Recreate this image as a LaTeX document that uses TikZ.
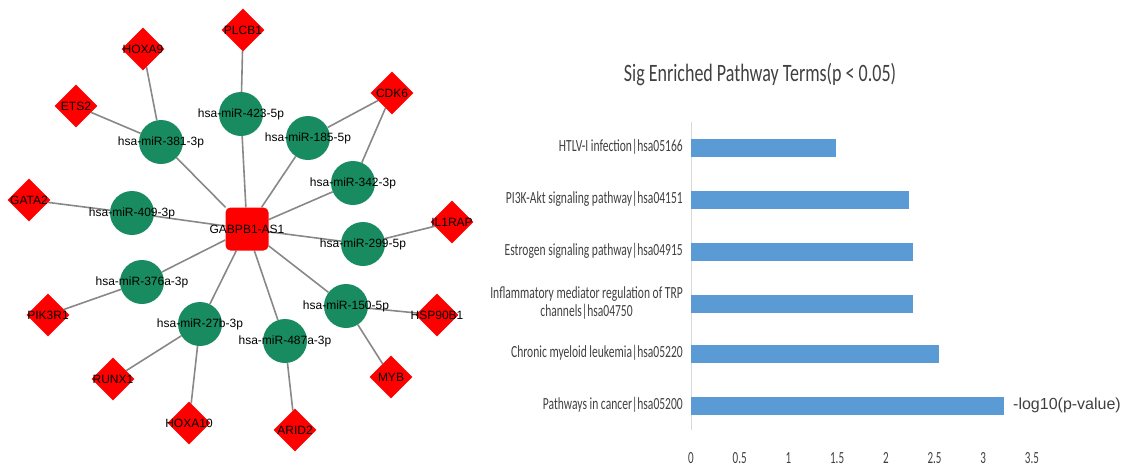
\documentclass[tikz,border=0pt]{standalone}
\usepackage{fontspec}
\setmainfont{Liberation Sans}
\newfontfamily\calib{Carlito}
\usetikzlibrary{shapes.geometric}

\definecolor{mirgreen}{RGB}{24,140,96}
\definecolor{barblue}{RGB}{91,155,213}
\definecolor{axgray}{RGB}{217,217,217}
\definecolor{txtgray}{RGB}{64,64,64}
\definecolor{edgegray}{RGB}{136,136,136}

\newcommand{\narrow}[2][0.68]{\scalebox{#1}[1]{#2}}

\pgfdeclarelayer{bg}
\pgfsetlayers{bg,main}

\tikzset{
  lbl/.style={font=\fontsize{12}{12}\selectfont, text=black, inner sep=0pt},
  mirna/.style={circle, fill=mirgreen, minimum size=44pt, inner sep=0pt, label={[lbl]center:#1}},
  gene/.style={diamond, fill=red, minimum size=43pt, inner sep=0pt, label={[lbl]center:#1}},
  lnc/.style={rectangle, rounded corners=5pt, fill=red, minimum size=43pt, inner sep=0pt, label={[lbl]center:#1}},
  link/.style={draw=edgegray, line width=1.6pt},
  cat/.style={font=\calib\fontsize{17}{18}\selectfont, text=txtgray, inner sep=0pt, anchor=east},
  tick/.style={font=\calib\fontsize{17}{17}\selectfont, text=txtgray, inner sep=0pt},
}

\begin{document}
\begin{tikzpicture}[x=1pt, y=-1pt]
  \useasboundingbox (0,0) rectangle (1137,466);

  % network
  \node[lnc=GABPB1-AS1] (gabpb) at (247,229) {};

  \node[mirna=hsa-miR-381-3p] (m381) at (161,142) {};
  \node[mirna=hsa-miR-423-5p] (m423) at (241,114) {};
  \node[mirna=hsa-miR-185-5p] (m185) at (308,138) {};
  \node[mirna=hsa-miR-342-3p] (m342) at (353,183) {};
  \node[mirna=hsa-miR-409-3p] (m409) at (132,213) {};
  \node[mirna=hsa-miR-299-5p] (m299) at (363,244) {};
  \node[mirna=hsa-miR-376a-3p] (m376) at (142,282) {};
  \node[mirna=hsa-miR-150-5p] (m150) at (346,306) {};
  \node[mirna=hsa-miR-27b-3p] (m27b) at (200,324) {};
  \node[mirna=hsa-miR-487a-3p] (m487) at (285,341) {};

  \node[gene=HOXA9] (hoxa9) at (143,49) {};
  \node[gene=ETS2] (ets2) at (76,106) {};
  \node[gene=PLCB1] (plcb1) at (243,30) {};
  \node[gene=CDK6] (cdk6) at (392,93) {};
  \node[gene=GATA2] (gata2) at (29,200) {};
  \node[gene=IL1RAP] (il1rap) at (452,222) {};
  \node[gene=PIK3R1] (pik3r1) at (48,315) {};
  \node[gene=HSP90B1] (hsp90b1) at (437,315) {};
  \node[gene=MYB] (myb) at (391,377) {};
  \node[gene=RUNX1] (runx1) at (113,379) {};
  \node[gene=HOXA10] (hoxa10) at (189,423) {};
  \node[gene=ARID2] (arid2) at (295,430) {};

  \begin{pgfonlayer}{bg}
    \foreach \a/\b in {gabpb/m381, gabpb/m423, gabpb/m185, gabpb/m342, gabpb/m409,
                       gabpb/m299, gabpb/m376, gabpb/m150, gabpb/m27b, gabpb/m487,
                       m381/hoxa9, m381/ets2, m423/plcb1, m185/cdk6, m342/cdk6,
                       m409/gata2, m299/il1rap, m376/pik3r1, m150/hsp90b1, m150/myb,
                       m27b/runx1, m27b/hoxa10, m487/arid2}
      \draw[link] (\a) -- (\b);
  \end{pgfonlayer}

  % bar chart
  \node[font=\calib\fontsize{25}{27}\selectfont, text=txtgray] (title) at (760,75)
    {\narrow[0.72]{Sig Enriched Pathway Terms(p < 0.05)}};

  \draw[axgray, line width=1pt] (691,122) -- (691,430);

  \foreach \val/\yy/\name [count=\i] in {
      1.49/148/{HTLV-I infection|hsa05166},
      2.24/200/{PI3K-Akt signaling pathway|hsa04151},
      2.28/252/{Estrogen signaling pathway|hsa04915},
      2.28/304/{Inflammatory mediator regulation of TRP\\channels|hsa04750},
      2.55/354/{Chronic myeloid leukemia|hsa05220},
      3.21/406/{Pathways in cancer|hsa05200}} {
    \fill[barblue] (691,\yy-9) rectangle ({691+97.4*\val},\yy+9);
    \node[cat] (cat\i) at (683,\yy) {\narrow{\begin{tabular}{@{}c@{}}\name\end{tabular}}};
  }

  \foreach \t [count=\i] in {0,0.5,1,1.5,2,2.5,3,3.5}
    \node[tick] (tk\i) at ({691+97.4*\t},458) {\narrow[0.65]{\t}};

  \node[font=\fontsize{16}{16}\selectfont, text=txtgray, anchor=west, inner sep=0pt]
    (legend) at (1013,405) {-log10(p-value)};
\end{tikzpicture}
\end{document}
